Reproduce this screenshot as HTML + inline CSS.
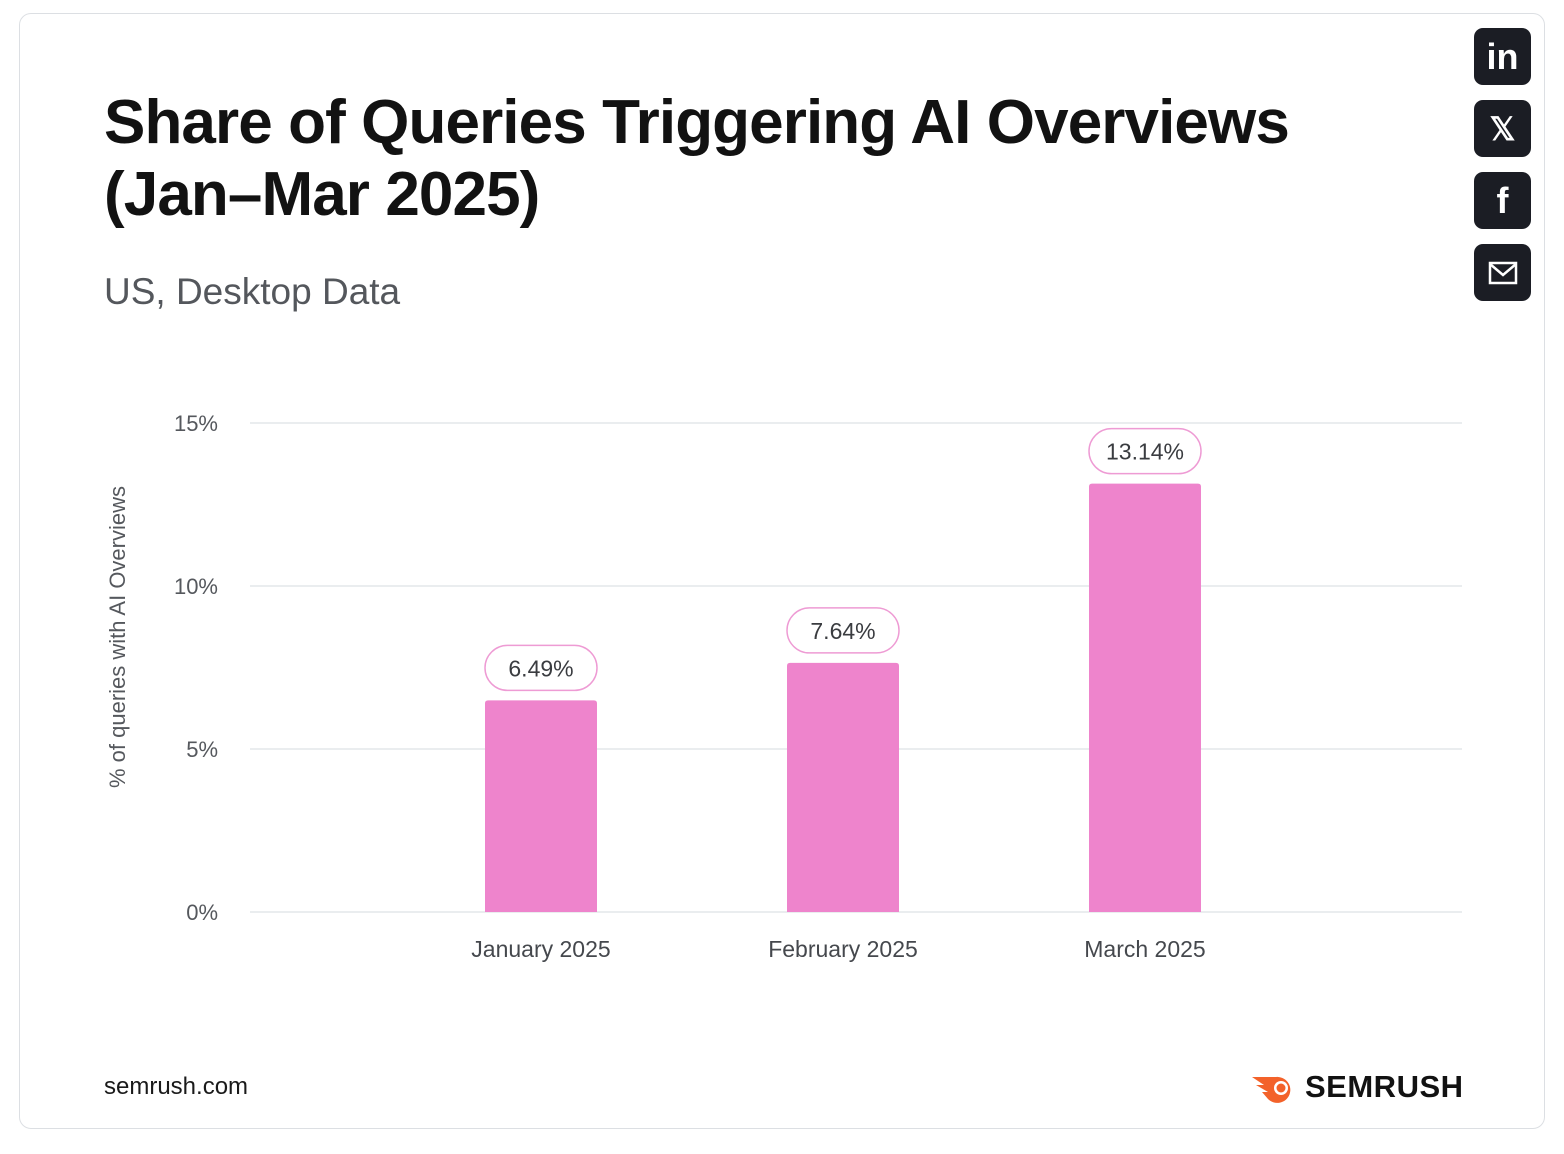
<!DOCTYPE html>
<html><head><meta charset="utf-8"><style>
body{margin:0;width:1564px;height:1154px;background:#fff;font-family:"Liberation Sans",sans-serif;position:relative;overflow:hidden}
.card{position:absolute;left:19px;top:13px;width:1526px;height:1116px;border:1px solid #dcdfe3;border-radius:12px;box-sizing:border-box}
.t{position:absolute;left:104px;top:87px;font-size:62px;font-weight:bold;line-height:72px;color:#121212;letter-spacing:-0.9px}
.sub{position:absolute;left:104px;top:271px;font-size:37px;color:#54575c}
.soc{position:absolute;left:1474px;width:57px;height:57px;background:#1b1d24;border-radius:9px;color:#fff;display:flex;align-items:center;justify-content:center;font-weight:bold}
.foot{position:absolute;left:104px;top:1073px;font-size:24px;color:#1a1a1a}
.logo{position:absolute;left:1305px;top:1069px;font-size:31px;font-weight:bold;color:#121212;letter-spacing:0.5px}
</style></head><body>
<div class="card"></div>
<div class="t">Share of Queries Triggering AI Overviews<br>(Jan–Mar 2025)</div>
<div class="sub">US, Desktop Data</div>
<div class="soc" style="top:28px;font-size:36px">in</div>
<div class="soc" style="top:100px;font-size:32px">𝕏</div>
<div class="soc" style="top:172px;font-size:36px">f</div>
<div class="soc" style="top:244px"><svg width="30" height="24" viewBox="0 0 30 24"><rect x="2" y="2" width="26" height="20" fill="none" stroke="#fff" stroke-width="2.5"/><path d="M2 3 L15 14 L28 3" fill="none" stroke="#fff" stroke-width="2.5"/></svg></div>
<svg id="chart" width="1564" height="1154" style="position:absolute;left:0;top:0"></svg>
<div class="foot">semrush.com</div>
<svg style="position:absolute;left:1250px;top:1072px" width="50" height="32"><path d="M2 5 L26 5 A13 13 0 1 1 18 27 L12 20 L18 20 L6 13 L14 13 Z" fill="#f3622a"/><circle cx="31" cy="16" r="7" fill="#fff"/><circle cx="31" cy="16" r="4.5" fill="#f3622a"/></svg>
<div class="logo">SEMRUSH</div>
<script>
const categories=["January 2025","February 2025","March 2025"];
const values=[6.49,7.64,13.14];
const valueLabels=["6.49%","7.64%","13.14%"];
const yTicks=[0,5,10,15];
const yTickLabels=["0%","5%","10%","15%"];
const svg=document.getElementById('chart');
const NS='http://www.w3.org/2000/svg';
const y=v=>912-v*(489/15);
const x=i=>541+i*302;
function mk(tag,attrs,text){const e=document.createElementNS(NS,tag);for(const k in attrs)e.setAttribute(k,attrs[k]);if(text!==undefined)e.textContent=text;svg.appendChild(e);return e;}
yTicks.forEach((t,i)=>{
 const l=mk('line',{x1:250,x2:1462,y1:y(t),y2:y(t),stroke:'#e4e7ea','stroke-width':1.5});
 
 
 const tx=mk('text',{x:218,y:y(t)+8,'text-anchor':'end','font-size':22,fill:'#55585d','font-family':'Liberation Sans'},yTickLabels[i]);
 
 
});
const yt=mk('text',{x:0,y:0,transform:'translate(125,637) rotate(-90)','text-anchor':'middle','font-size':22,fill:'#55585d','font-family':'Liberation Sans'},'% of queries with AI Overviews');


values.forEach((v,i)=>{
 const cx=x(i),top=y(v);
 const b=mk('path',{d:`M${cx-56} 912 L${cx-56} ${top+3} Q${cx-56} ${top} ${cx-53} ${top} L${cx+53} ${top} Q${cx+56} ${top} ${cx+56} ${top+3} L${cx+56} 912 Z`,fill:'#ee84cc'});
 
 
 const p=mk('rect',{x:cx-56,y:top-55,width:112,height:45,rx:22.5,fill:'#fff',stroke:'#ee9bd4','stroke-width':1.5});
 
 
 const vt=mk('text',{x:cx,y:top-24,'text-anchor':'middle','font-size':23,fill:'#3a3c40','font-family':'Liberation Sans'},valueLabels[i]);
 
 
 const ct=mk('text',{x:cx,y:957,'text-anchor':'middle','font-size':23,fill:'#45484d','font-family':'Liberation Sans'},categories[i]);
 
 
});
</script>
</body></html>
